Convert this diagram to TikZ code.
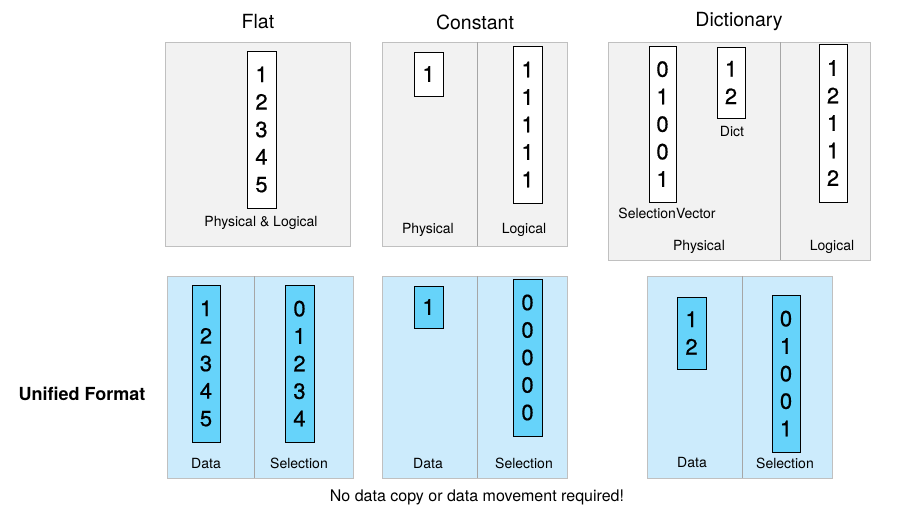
\documentclass[tikz,border=0pt]{standalone}
\usepackage{fontspec}
\setmainfont{TeX Gyre Heros}
\newfontfamily\digitfont[FakeBold=0.6]{TeX Gyre Heros}
\definecolor{panelgray}{HTML}{F2F2F2}
\definecolor{panelline}{HTML}{C0C0C0}
\definecolor{panelblue}{HTML}{CCEBFC}
\definecolor{vecblue}{HTML}{66D3FA}

\begin{document}
\begin{tikzpicture}[x=1pt,y=-1pt,
  vec/.style={draw=black, line width=0.9pt, fill=white, align=center, inner sep=0pt,
    font=\digitfont\fontsize{22}{27.5}\selectfont},
  uvec/.style={vec, fill=vecblue},
  lbl/.style={font=\fontsize{14}{16}\selectfont},
  ttl/.style={font=\fontsize{19.5}{22}\selectfont}]
\useasboundingbox (0,0) rectangle (900,514);
% top row: physical layouts
\filldraw[fill=panelgray, draw=panelline, line width=1pt] (165,42) rectangle (350,246);
\filldraw[fill=panelgray, draw=panelline, line width=1pt] (382,42) rectangle (567,246);
\filldraw[fill=panelgray, draw=panelline, line width=1pt] (608,42) rectangle (870,260);
\draw[black!35, line width=0.8pt] (477,42) -- (477,246);
\draw[black!35, line width=0.8pt] (780,42) -- (780,260);
% bottom row: unified format
\filldraw[fill=panelblue, draw=panelline, line width=1pt] (167,276) rectangle (353,478);
\filldraw[fill=panelblue, draw=panelline, line width=1pt] (382,276) rectangle (567,478);
\filldraw[fill=panelblue, draw=panelline, line width=1pt] (647,276) rectangle (832,478);
\draw[black!35, line width=0.8pt] (254,276) -- (254,478);
\draw[black!35, line width=0.8pt] (477,276) -- (477,478);
\draw[black!35, line width=0.8pt] (742,276) -- (742,478);

\node[ttl] (flatTitle) at (258,22) {Flat};
\node[ttl] (constTitle) at (475,22) {Constant};
\node[ttl] (dictTitle) at (739,22) {Dictionary};

\node[vec, minimum width=29, minimum height=157] (flatVec) at (261.5,129.5) {1\\2\\3\\4\\5};
\node[lbl] (flatLbl) at (261,223) {Physical \& Logical};

\node[vec, minimum width=29, minimum height=44] (constPhys) at (428.5,74) {1};
\node[vec, minimum width=29, minimum height=157] (constLog) at (527.5,124.5) {1\\1\\1\\1\\1};
\node[lbl] (constPhysLbl) at (428,230) {Physical};
\node[lbl] (constLogLbl) at (524,230) {Logical};

\node[vec, minimum width=27, minimum height=156] (dictSel) at (662.5,124) {0\\1\\0\\0\\1};
\node[vec, minimum width=28, minimum height=71] (dictVals) at (731,82.5) {1\\2};
\node[vec, minimum width=28, minimum height=158] (dictLog) at (833,123) {1\\2\\1\\1\\2};
\node[lbl] (dictSelLbl) at (667,213) {SelectionVector};
\node[lbl] (dictValsLbl) at (732,132) {Dict};
\node[lbl] (dictPhysLbl) at (699,247) {Physical};
\node[lbl] (dictLogLbl) at (832,247) {Logical};

\node[font=\bfseries\fontsize{18}{20}\selectfont] (unified) at (82,394) {Unified Format};

\node[uvec, minimum width=28, minimum height=157] (uFlatData) at (206,363.5) {1\\2\\3\\4\\5};
\node[uvec, minimum width=29, minimum height=157] (uFlatSel) at (299.5,363.5) {0\\1\\2\\3\\4};
\node[lbl] (uFlatDataLbl) at (206,463) {Data};
\node[lbl] (uFlatSelLbl) at (299,463) {Selection};

\node[uvec, minimum width=29, minimum height=42] (uConstData) at (428.5,307) {1};
\node[uvec, minimum width=29, minimum height=157] (uConstSel) at (527.5,357.5) {0\\0\\0\\0\\0};
\node[lbl] (uConstDataLbl) at (428,463) {Data};
\node[lbl] (uConstSelLbl) at (524,463) {Selection};

\node[uvec, minimum width=29, minimum height=72] (uDictData) at (691.5,333) {1\\2};
\node[uvec, minimum width=28, minimum height=157] (uDictSel) at (786,373.5) {0\\1\\0\\0\\1};
\node[lbl] (uDictDataLbl) at (692,462) {Data};
\node[lbl] (uDictSelLbl) at (785,463) {Selection};

\node[font=\fontsize{16}{18}\selectfont] (note) at (477,497) {No data copy or data movement required!};
\end{tikzpicture}
\end{document}
